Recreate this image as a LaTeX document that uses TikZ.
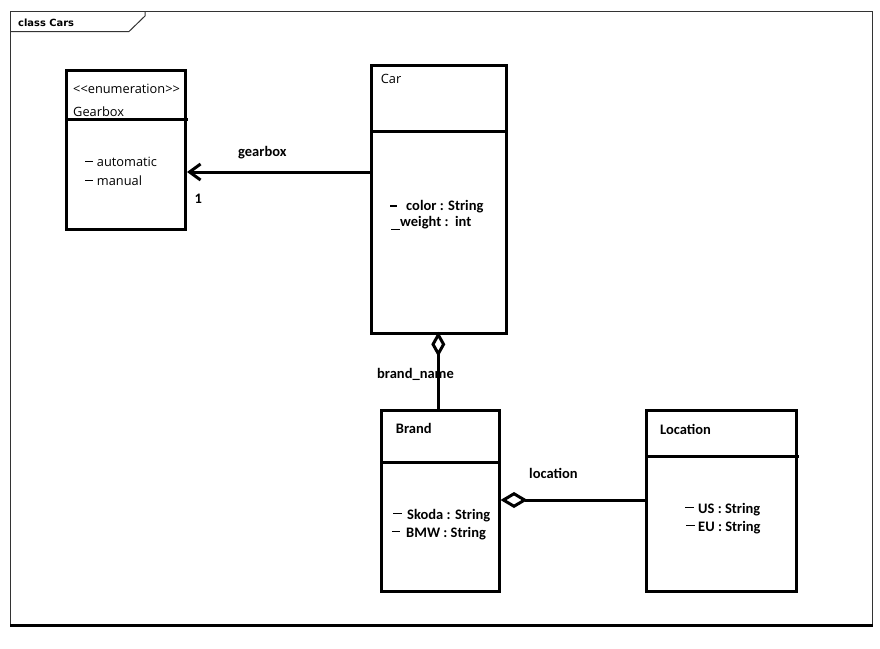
\documentclass[tikz,border=0pt]{standalone}
\usepackage{fontspec}
\setmainfont{Carlito}
\newfontfamily\segfont{Open Sans}
\newfontfamily\tabfont{DejaVu Sans}
\usetikzlibrary{arrows.meta}
\newcommand\mydash[2]{\rule[#2]{#1}{1.3pt}}
\tikzset{
  cls/.style={draw=black, line width=3pt, rectangle, inner sep=0pt, outer sep=0pt, anchor=north west},
  divider/.style={line width=3pt},
  assoc/.style={line width=3pt},
  lbl/.style={inner sep=0pt, anchor=base west, font=\fontsize{14.5}{17}\selectfont\bfseries},
  reg/.style={inner sep=0pt, anchor=base west, font=\segfont\fontsize{12.8}{15}\selectfont},
  frame/.style={draw=black!80, line width=1pt},
}
\begin{document}
\begin{tikzpicture}[x=1pt,y=-1pt]
\useasboundingbox[fill=white] (0,0) rectangle (880,648);
% frame
\draw[frame] (10.5,11.5) rectangle (872,625.5);
\draw[line width=2.5pt, black] (10,625.5) -- (872.5,625.5);
\draw[frame] (10.5,31.5) -- (129,31.5) -- (145,16) -- (145,11.5);
\node[inner sep=0pt, anchor=base west, font=\tabfont\bfseries\fontsize{9.9}{12}\selectfont] (title) at (18,26.7) {class Cars};

% Gearbox
\node[cls, minimum width=119pt, minimum height=159.3pt] (gearbox) at (66,70) {};
\draw[divider] (gearbox.west |- 0,119.5) -- (188,119.5);
\node[reg] (gbst) at (73,93) {<<enumeration>>};
\node[reg] (gbname) at (73,116) {Gearbox};
\node[reg] (gba) at (85,166) {\mydash{8pt}{4.2pt}\hspace{3.7pt}automatic};
\node[reg] (gbm) at (85,185) {\mydash{8pt}{4.2pt}\hspace{3.7pt}manual};

% Car
\node[cls, minimum width=135pt, minimum height=267.6pt] (car) at (371.7,65.7) {};
\draw[divider] (car.west |- 0,131) -- (car.east |- 0,131);
\node[reg] (carname) at (380.7,83.3) {Car};
\node[lbl] (cara) at (390,210.7) {\mydash{6.7pt}{4pt}\hspace{9.3pt}color : String};
\node[lbl] (carb) at (391,226.7) {\mydash{9pt}{-3.3pt}weight :\ \ int};

% Brand
\node[cls, minimum width=117.3pt, minimum height=181.7pt] (brand) at (381.7,410) {};
\draw[divider] (brand.west |- 0,462.7) -- (brand.east |- 0,462.7);
\node[lbl] (brname) at (395.7,433) {Brand};
\node[lbl] (bra) at (393,519.3) {\mydash{9pt}{5.2pt}\hspace{5pt}Skoda : String};
\node[lbl] (brb) at (391.7,537) {\mydash{8.5pt}{5.2pt}\hspace{5.8pt}BMW : String};

% Location
\node[cls, minimum width=150pt, minimum height=181pt] (loc) at (646.7,410) {};
\draw[divider] (loc.west |- 0,456) -- (798.5,456);
\node[lbl] (locname) at (660,434) {Location};
\node[lbl] (loca) at (685,513) {\mydash{9pt}{5.2pt}\hspace{4pt}US : String};
\node[lbl] (locb) at (686,531) {\mydash{9pt}{5.2pt}\hspace{3pt}EU : String};

% connectors
\draw[assoc, -{Straight Barb[length=11pt, width=16pt]}] (car.west |- 0,172) -- ([xshift=2pt]gearbox.east |- 0,172);
\node[lbl] (gblbl) at (238,156.7) {gearbox};
\node[lbl] (gbmult) at (194.5,203) {1};

\draw[assoc, -{Diamond[open, length=25pt, width=14pt]}] (brand.north -| 438.3,0) -- ([yshift=1.5pt]car.south -| 438.3,0);
\node[lbl] (bnlbl) at (377,378) {brand\_name};

\draw[assoc, -{Diamond[open, length=27pt, width=16pt]}] (loc.west |- 0,500) -- ([xshift=1.5pt]brand.east |- 0,500);
\node[lbl] (loclbl) at (529,478) {location};
\end{tikzpicture}
\end{document}
